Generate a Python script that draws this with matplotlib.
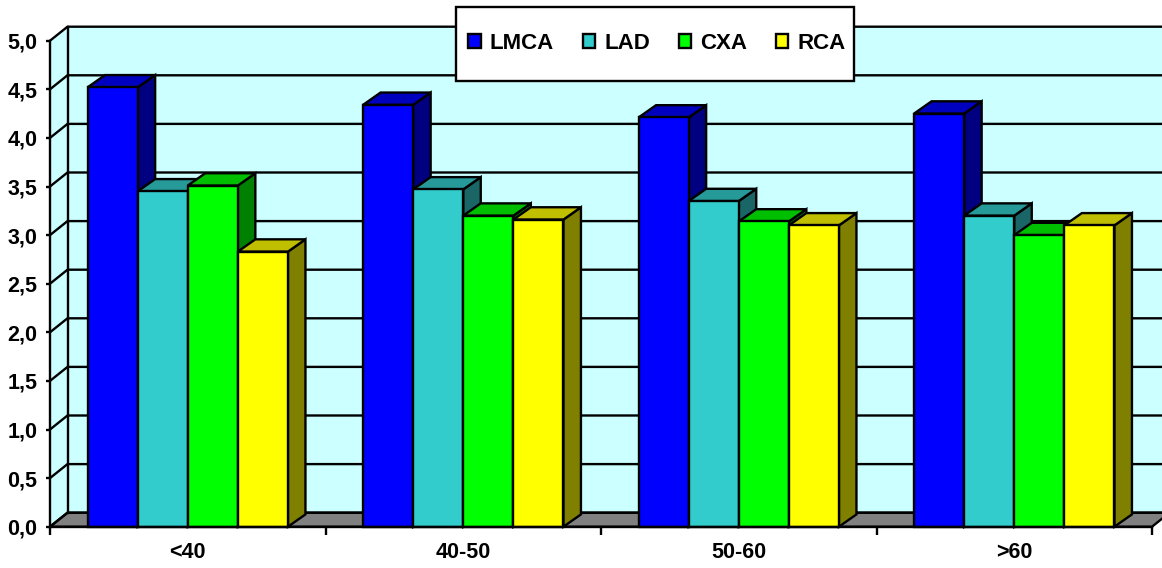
import matplotlib
matplotlib.use("Agg")
import matplotlib.pyplot as plt
from matplotlib.patches import Polygon, Patch, Rectangle

plt.rcParams['font.family'] = ['Liberation Sans', 'DejaVu Sans']
plt.rcParams['font.weight'] = 'bold'

categories = ['<40', '40-50', '50-60', '>60']
series_names = ['LMCA', 'LAD', 'CXA', 'RCA']
lmca = [4.52, 4.34, 4.21, 4.25]
lad = [3.45, 3.47, 3.35, 3.20]
cxa = [3.51, 3.20, 3.14, 3.00]
rca = [2.83, 3.16, 3.10, 3.10]
yticks = [0.0, 0.5, 1.0, 1.5, 2.0, 2.5, 3.0, 3.5, 4.0, 4.5, 5.0]
ytick_labels = ['0,0', '0,5', '1,0', '1,5', '2,0', '2,5', '3,0', '3,5', '4,0', '4,5', '5,0']
front_colors = ['#0000FF', '#33CCCC', '#00FF00', '#FFFF00']
top_colors = ['#0000BF', '#269999', '#00BF00', '#BFBF00']
side_colors = ['#000080', '#1A6666', '#008000', '#808000']

W, H = 1162, 568
L, R, T, B = 50, 1152, 40.7, 526.7
LW = 1.7
fig = plt.figure(figsize=(W / 100, H / 100), dpi=100, facecolor='white')
ax = fig.add_axes([L / W, (H - B) / H, (R - L) / W, (B - T) / H])
ax.set_xlim(0, 4)
ax.set_ylim(0, 5)
ax.patch.set_visible(False)
for s in ['top', 'right']:
    ax.spines[s].set_visible(False)
for s in ['left', 'bottom']:
    ax.spines[s].set_linewidth(LW)
    ax.spines[s].set_zorder(6)

px = 4 / (R - L)
py = 5 / (B - T)
wall_dx, wall_dy = 17.5 * px, 14.0 * py
bar_dx, bar_dy = 17.5 * px, 12.3 * py
xend = 4 + wall_dx


def poly(pts, fc, z, ec='black', lw=LW):
    ax.add_patch(Polygon(pts, closed=True, facecolor=fc, edgecolor=ec, linewidth=lw,
                         clip_on=False, zorder=z, joinstyle='miter'))


# walls and floor
poly([(0, 0), (wall_dx, wall_dy), (wall_dx, 5 + wall_dy), (0, 5)], '#CCFFFF', 1, ec='none', lw=0)
poly([(wall_dx, wall_dy), (xend, wall_dy), (xend, 5 + wall_dy), (wall_dx, 5 + wall_dy)], '#CCFFFF', 1, ec='none', lw=0)
poly([(0, 0), (wall_dx, wall_dy), (xend, wall_dy), (4, 0)], '#808080', 2)

# gridlines over back and side walls
for v in yticks:
    ax.plot([0, wall_dx, xend], [v, v + wall_dy, v + wall_dy], color='black', lw=LW,
            clip_on=False, zorder=3, solid_joinstyle='miter')
ax.plot([wall_dx, wall_dx], [wall_dy, 5 + wall_dy], color='black', lw=LW, clip_on=False, zorder=3)

# bars
series = [lmca, lad, cxa, rca]
bw = 50.1 / 275.5
z = 4
for i in range(len(categories)):
    x0 = i + 0.5 - 2 * bw
    for j, vals in enumerate(series):
        a = x0 + j * bw
        b = a + bw
        v = vals[i]
        poly([(b, 0), (b + bar_dx, bar_dy), (b + bar_dx, v + bar_dy), (b, v)], side_colors[j], z)
        poly([(a, v), (a + bar_dx, v + bar_dy), (b + bar_dx, v + bar_dy), (b, v)], top_colors[j], z)
        poly([(a, 0), (b, 0), (b, v), (a, v)], front_colors[j], z)
        z += 0.01

# axes ticks
ax.set_yticks(yticks)
ax.set_yticklabels(ytick_labels)
for t in ax.get_yticklabels():
    t.set_y(t.get_position()[1])
ax.set_xticks(range(5))
ax.set_xticklabels([])
ax.set_xticks([i + 0.5 for i in range(4)], minor=True)
ax.set_xticklabels(categories, minor=True)
ax.tick_params(axis='y', length=3, width=LW, labelsize=15.5, pad=6)
ax.tick_params(axis='x', which='major', length=6, width=LW)
ax.tick_params(axis='x', which='minor', length=0, labelsize=15.5, pad=11)

# legend
fig.add_artist(Rectangle((455.5 / W, 1 - 81 / H), 398 / W, 74 / H, transform=fig.transFigure,
                         facecolor='white', edgecolor='black', linewidth=LW, zorder=10))
handles = [Patch(facecolor=c, edgecolor='black', linewidth=LW) for c in front_colors]
leg = fig.legend(handles, series_names, loc='center', bbox_to_anchor=(657 / W, 1 - 43.5 / H), ncol=4,
                 frameon=False, fontsize=16, handlelength=0.56, handleheight=0.56,
                 handletextpad=0.4, columnspacing=1.3, borderpad=0, borderaxespad=0)
leg.set_zorder(11)

fig.savefig('out.png', dpi=100, facecolor='white')
